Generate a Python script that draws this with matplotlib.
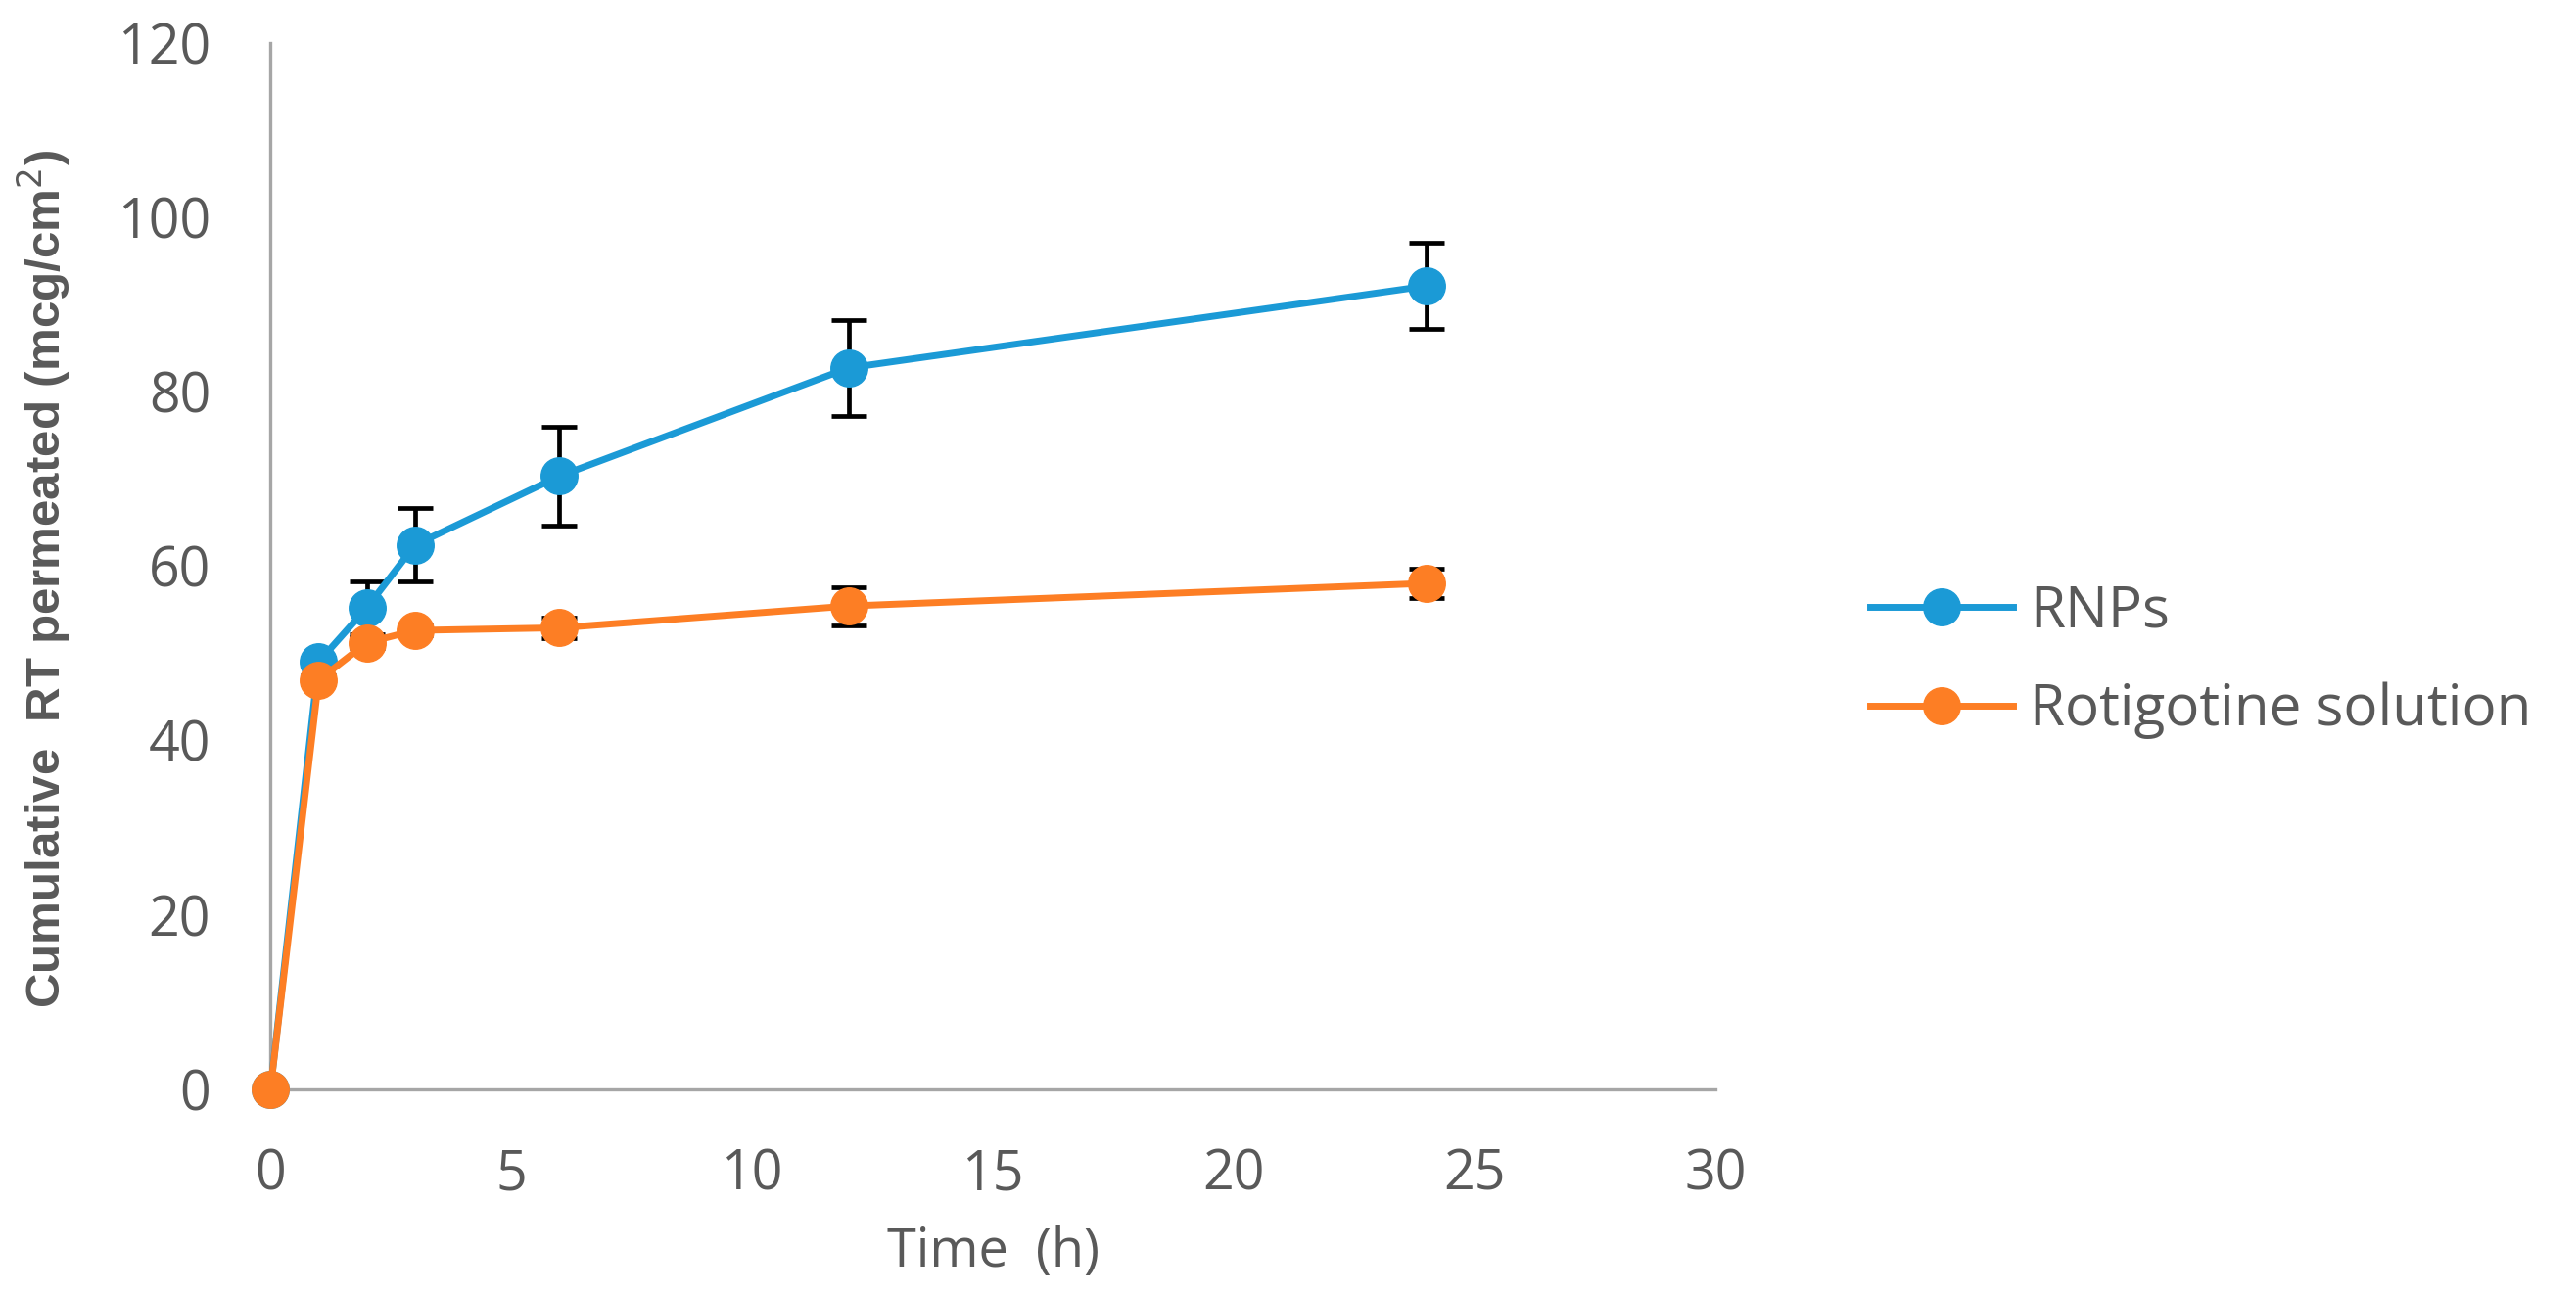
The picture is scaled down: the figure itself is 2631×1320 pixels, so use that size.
import numpy as np
import matplotlib
matplotlib.use("Agg")
import matplotlib.pyplot as plt

# values
time_h = [0, 1, 2, 3, 6, 12, 24]
rnps = [0, 49.0, 55.2, 62.4, 70.3, 82.7, 92.1]
rnps_err = [0, 0.5, 3.0, 4.2, 5.7, 5.5, 4.9]
solution = [0, 46.9, 51.2, 52.6, 52.9, 55.4, 58.0]
solution_err = [0, 0.5, 0.6, 0.6, 1.2, 2.2, 1.7]
labels = ["RNPs", "Rotigotine solution"]
colors = ["#1b9ad6", "#fd7e24"]

tick_font = "Open Sans"
grey = "#595959"

fig = plt.figure(figsize=(26.31, 13.2), dpi=100)
ax = fig.add_axes([0.105, 0.157, 0.561, 0.81])

for y, e, c, lab in [(rnps, rnps_err, colors[0], labels[0]),
                     (solution, solution_err, colors[1], labels[1])]:
    ax.errorbar(time_h, y, yerr=e, color=c, lw=5, marker="o", ms=27,
                ecolor="black", elinewidth=3.4, capsize=13, capthick=3.4,
                label=lab, clip_on=False, zorder=3)

ax.set_xlim(0, 30)
ax.set_ylim(0, 120)
ax.set_xticks(np.arange(0, 31, 5))
ax.set_yticks(np.arange(0, 121, 20))
for s in ["top", "right"]:
    ax.spines[s].set_visible(False)
for s in ["left", "bottom"]:
    ax.spines[s].set_color("#a6a6a6")
    ax.spines[s].set_linewidth(2.4)
ax.tick_params(axis="y", length=0, pad=44, labelsize=40, labelcolor=grey)
ax.tick_params(axis="x", length=0, pad=43, labelsize=40, labelcolor=grey)
for t in ax.get_xticklabels() + ax.get_yticklabels():
    t.set_family(tick_font)

ax.set_xlabel("Time  (h)", fontsize=39, color=grey, family=tick_font, labelpad=16)
ax.set_ylabel("Cumulative  RT permeated (mcg/cm$^2$)", fontsize=35.5, color=grey,
              family="Liberation Sans", fontweight="bold")
ax.yaxis.set_label_coords(-0.137, 0.488)

handles, labs = ax.get_legend_handles_labels()
handles = [h[0] for h in handles]
leg = fig.legend(handles, labs, loc="center left", bbox_to_anchor=(0.706, 0.488),
                 frameon=False, handlelength=2.5, labelspacing=0.72,
                 handletextpad=0.3, prop={"family": tick_font, "size": 42})
for t in leg.get_texts():
    t.set_color(grey)

fig.savefig("out.png", dpi=100)
